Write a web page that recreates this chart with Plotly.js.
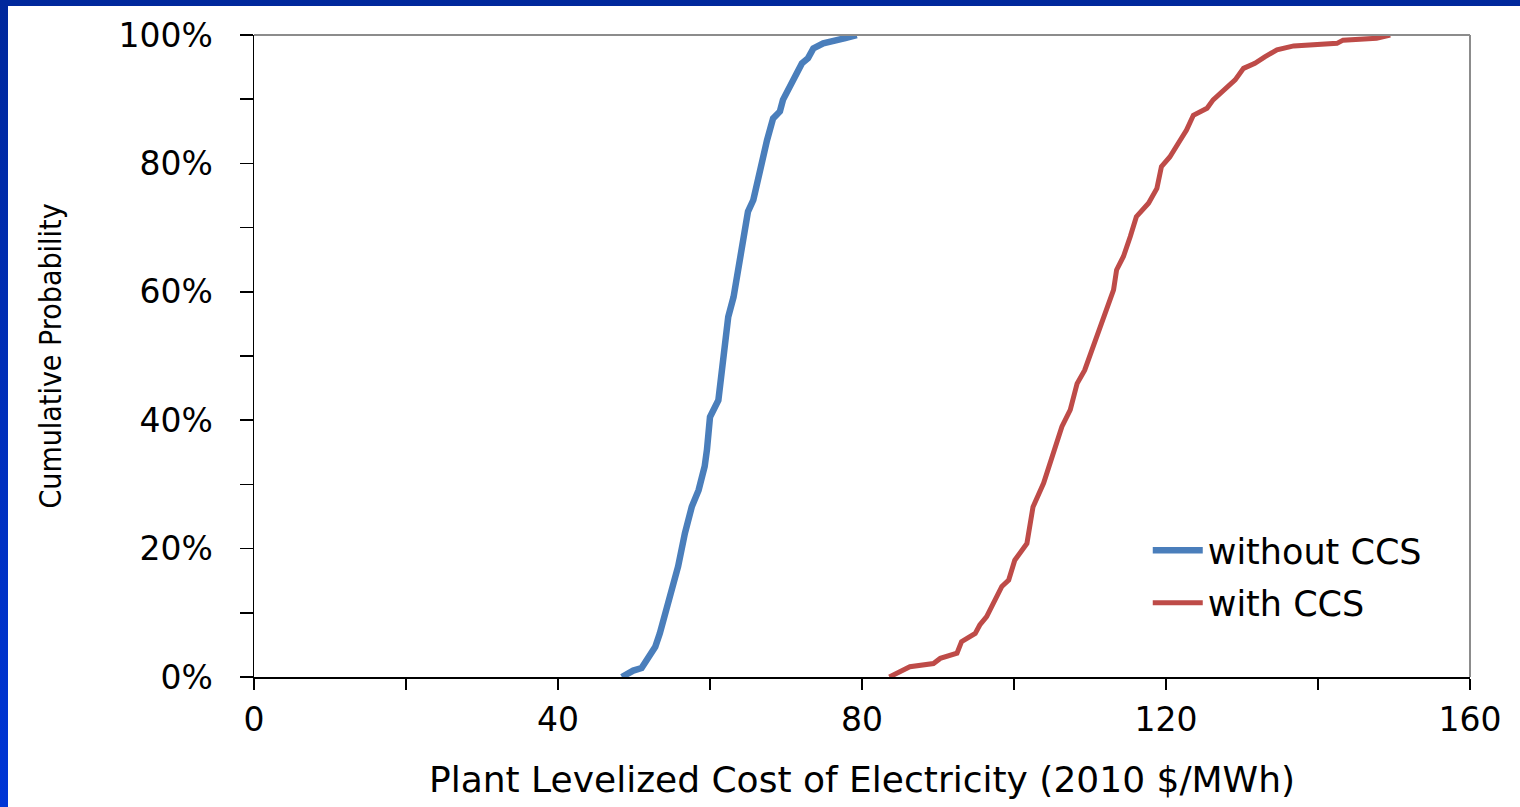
<!DOCTYPE html>
<html>
<head>
<meta charset="utf-8">
<script src="https://cdn.plot.ly/plotly-3.0.1.min.js"></script>
<style>
  html, body { margin: 0; padding: 0; }
  body { width: 1520px; height: 807px; overflow: hidden; position: relative;
         background: linear-gradient(to bottom, #00289c 0%, #0030c0 60%, #0036d6 100%); }
  #frame { position: absolute; left: 8px; top: 6px; right: 0; bottom: 0; background: #ffffff; }
  #chart { position: absolute; left: 0; top: 0; width: 1520px; height: 807px; }
</style>
</head>
<body>
<div id="frame"></div>
<div id="chart"></div>
<script>
// Plant levelized cost of electricity (2010 $/MWh) vs cumulative probability (%)
const withoutCcsCost = [48.4, 49.9, 51.0, 51.7, 52.8, 53.4, 54.3, 55.2, 55.8, 56.7, 57.6, 58.5, 59.3, 59.6, 60.0, 61.1, 61.8, 62.4, 63.1, 63.7, 64.4, 65.0, 65.7, 66.6, 67.5, 68.3, 69.2, 69.6, 70.5, 71.4, 72.1, 72.9, 73.6, 74.9, 77.8, 79.3];
const withoutCcsProb = [0.0, 1.0, 1.4, 2.6, 4.7, 6.8, 10.4, 14.6, 17.2, 22.4, 26.5, 29.1, 32.8, 35.4, 40.5, 43.1, 50.0, 56.1, 59.2, 63.4, 67.0, 72.5, 74.3, 79.5, 83.6, 87.0, 88.1, 89.9, 92.2, 94.0, 95.6, 96.4, 97.9, 98.7, 99.5, 100.0];

const withCcsCost = [83.6, 86.3, 89.4, 90.3, 92.5, 93.1, 94.9, 95.5, 96.4, 97.3, 98.4, 99.3, 100.1, 101.7, 102.5, 103.9, 104.7, 105.4, 106.3, 107.4, 108.3, 109.3, 110.0, 110.9, 112.0, 113.1, 113.5, 114.4, 115.3, 116.1, 117.7, 118.8, 119.4, 120.5, 121.6, 122.7, 123.6, 125.4, 126.2, 127.5, 129.1, 130.2, 131.7, 133.0, 134.6, 136.8, 142.5, 143.3, 147.7, 149.5];
const withCcsProb = [0.0, 1.6, 2.1, 2.9, 3.7, 5.5, 6.8, 8.1, 9.4, 11.5, 14.1, 15.1, 18.2, 20.8, 26.5, 30.2, 33.3, 35.4, 39.0, 41.6, 45.7, 47.8, 50.2, 53.3, 56.6, 60.3, 63.4, 65.5, 68.6, 71.7, 73.8, 76.1, 79.5, 81.0, 83.1, 85.2, 87.5, 88.6, 89.9, 91.2, 93.0, 94.8, 95.6, 96.6, 97.7, 98.3, 98.7, 99.2, 99.5, 100.0];

const seriesNames = ["without CCS", "with CCS"];
const xTickVals = [0, 40, 80, 120, 160];
const yTickVals = [0, 20, 40, 60, 80, 100];

const tickFont = { family: "DejaVu Sans, Verdana, sans-serif", size: 33, color: "#000000" };

const traces = [
  { x: withoutCcsCost, y: withoutCcsProb, name: seriesNames[0], type: "scatter", mode: "lines",
    line: { color: "#4a7ebb", width: 6.5 }, legendgroup: "a" },
  { x: withCcsCost, y: withCcsProb, name: seriesNames[1], type: "scatter", mode: "lines",
    line: { color: "#be4b48", width: 5 }, legendgroup: "b" }
];

const layout = {
  width: 1520, height: 807,
  paper_bgcolor: "rgba(0,0,0,0)",
  plot_bgcolor: "#ffffff",
  margin: { l: 254, r: 50, t: 35, b: 130 },
  showlegend: true,
  legend: {
    x: 0.735, y: 0.243, xanchor: "left", yanchor: "top",
    font: { family: "DejaVu Sans, Verdana, sans-serif", size: 35, color: "#000000" },
    bgcolor: "rgba(0,0,0,0)",
    traceorder: "grouped", tracegroupgap: 4,
    itemwidth: 50
  },
  xaxis: {
    range: [0, 160], tickmode: "array", tickvals: xTickVals, ticktext: xTickVals.map(String),
    ticks: "outside", ticklen: 11, tickwidth: 1.5, tickcolor: "#000000",
    minor: { dtick: 20, tick0: 0, ticks: "outside", ticklen: 11, tickwidth: 1.5, tickcolor: "#000000", showgrid: false },
    showline: true, linecolor: "#000000", linewidth: 1.5,
    showgrid: false, zeroline: false,
    tickfont: tickFont, ticklabelstandoff: 2,
    title: { text: "Plant Levelized Cost of Electricity (2010 $/MWh)",
             font: { family: "DejaVu Sans, Verdana, sans-serif", size: 36, color: "#000000" }, standoff: 28 }
  },
  yaxis: {
    range: [0, 100], tickmode: "array", tickvals: yTickVals, ticktext: yTickVals.map(v => v + "%"),
    ticks: "outside", ticklen: 13, tickwidth: 1.5, tickcolor: "#000000",
    minor: { dtick: 10, tick0: 0, ticks: "outside", ticklen: 13, tickwidth: 1.5, tickcolor: "#000000", showgrid: false },
    showline: true, linecolor: "#000000", linewidth: 1.5,
    showgrid: false, zeroline: false,
    tickfont: tickFont, ticklabelstandoff: 20,
    title: { text: "Cumulative Probability",
             font: { family: "Liberation Sans Narrow, DejaVu Sans Condensed, sans-serif", size: 30, color: "#000000" }, standoff: 48 }
  },
  shapes: [
    { type: "line", xref: "x domain", yref: "y domain", x0: 0, x1: 1, y0: 1, y1: 1, line: { color: "#8c8c8c", width: 2 } },
    { type: "line", xref: "x domain", yref: "y domain", x0: 1, x1: 1, y0: 0, y1: 1, line: { color: "#8c8c8c", width: 2 } }
  ]
};

Plotly.newPlot("chart", traces, layout, { displayModeBar: false, staticPlot: true });
</script>
</body>
</html>
